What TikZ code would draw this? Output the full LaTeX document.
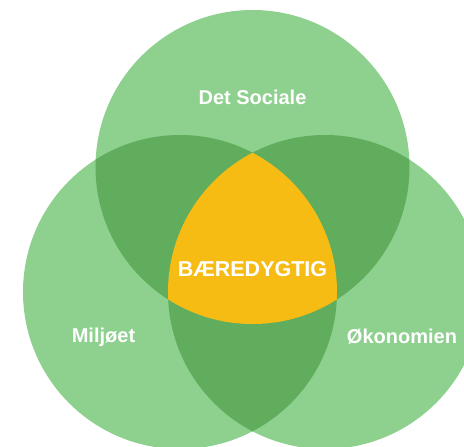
\documentclass[tikz,border=0pt]{standalone}
\usepackage{fontspec}
\setmainfont{Liberation Sans}
\usepackage{tikz}
\definecolor{lightgreen}{RGB}{142,208,142}
\definecolor{darkgreen}{RGB}{95,173,93}
\definecolor{sunyellow}{RGB}{247,188,20}
\tikzstyle{label} = [text=white,font=\fontsize{20}{24}\selectfont\bfseries]
\tikzstyle{core} = [text=white,font=\fontsize{21.5}{26}\selectfont\bfseries]

\begin{document}
\begin{tikzpicture}[x=1pt,y=-1pt]
\useasboundingbox (0,0) rectangle (464,447);

\coordinate (social) at (252.5,167);
\coordinate (miljo) at (180,292);
\coordinate (okonomi) at (325,292);

\foreach \c in {social,miljo,okonomi}
{
\fill[lightgreen] (\c) circle (157pt);
}

\begin{scope}
\clip (social) circle (157pt);
\fill[darkgreen] (miljo) circle (157pt);
\fill[darkgreen] (okonomi) circle (157pt);
\end{scope}
\begin{scope}
\clip (miljo) circle (157pt);
\fill[darkgreen] (okonomi) circle (157pt);
\end{scope}

\begin{scope}
\clip (social) circle (157pt);
\clip (miljo) circle (157pt);
\fill[sunyellow] (okonomi) circle (157pt);
\end{scope}

\node[label] (detsociale) at (252.5,97) {Det Sociale};
\node[label] (miljoet) at (103.5,337) {Miljøet};
\node[label] (okonomien) at (402,337) {Økonomien};
\node[core] (baeredygtig) at (252.5,269.5) {BÆREDYGTIG};
\end{tikzpicture}
\end{document}
